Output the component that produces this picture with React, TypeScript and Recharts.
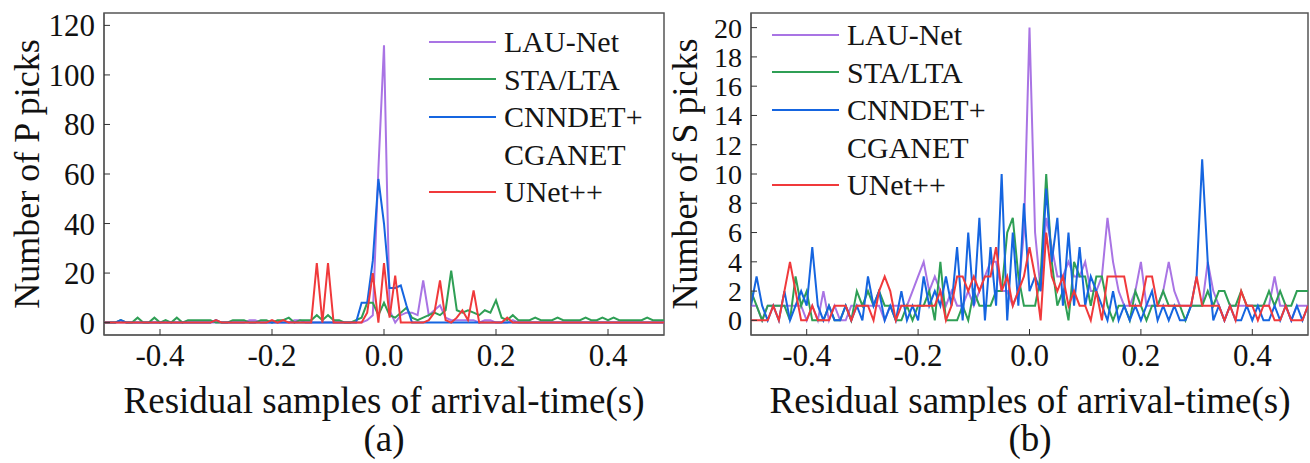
import { LineChart, Line, XAxis, YAxis, ReferenceArea, Legend } from "recharts";

const FONT = '"Liberation Serif", "Times New Roman", serif';

// residual time (s), 0.01 s bins
const residual = [
  -0.5, -0.49, -0.48, -0.47, -0.46, -0.45, -0.44, -0.43, -0.42, -0.41,
  -0.4, -0.39, -0.38, -0.37, -0.36, -0.35, -0.34, -0.33, -0.32, -0.31,
  -0.3, -0.29, -0.28, -0.27, -0.26, -0.25, -0.24, -0.23, -0.22, -0.21,
  -0.2, -0.19, -0.18, -0.17, -0.16, -0.15, -0.14, -0.13, -0.12, -0.11,
  -0.1, -0.09, -0.08, -0.07, -0.06, -0.05, -0.04, -0.03, -0.02, -0.01,
  0, 0.01, 0.02, 0.03, 0.04, 0.05, 0.06, 0.07, 0.08, 0.09,
  0.1, 0.11, 0.12, 0.13, 0.14, 0.15, 0.16, 0.17, 0.18, 0.19,
  0.2, 0.21, 0.22, 0.23, 0.24, 0.25, 0.26, 0.27, 0.28, 0.29,
  0.3, 0.31, 0.32, 0.33, 0.34, 0.35, 0.36, 0.37, 0.38, 0.39,
  0.4, 0.41, 0.42, 0.43, 0.44, 0.45, 0.46, 0.47, 0.48, 0.49,
  0.5,
];

// (a) P picks
const pLauNet = [
  0, 0, 0, 0, 0, 0, 0, 0, 0, 0,
  0, 0, 0, 0, 0, 0, 0, 0, 0, 0,
  0, 0, 0, 0, 0, 0, 1, 1, 0, 0,
  0, 0, 0, 0, 1, 1, 0, 0, 0, 0,
  0, 0, 0, 0, 0, 0, 0, 1, 3, 62,
  112, 5, 0, 3, 4, 4, 3, 17, 3, 5,
  7, 2, 1, 1, 1, 1, 1, 0, 1, 1,
  0, 0, 0, 1, 0, 0, 0, 0, 0, 0,
  0, 0, 0, 0, 0, 0, 0, 0, 0, 0,
  0, 0, 0, 0, 0, 0, 0, 0, 0, 0,
  0,
];
const pStaLta = [
  0, 0, 0, 1, 0, 0, 2, 0, 0, 2,
  0, 1, 0, 2, 0, 1, 1, 1, 1, 1,
  0, 0, 0, 1, 1, 1, 0, 0, 1, 1,
  0, 1, 1, 2, 0, 1, 1, 1, 3, 1,
  3, 1, 1, 0, 0, 1, 2, 8, 8, 3,
  8, 3, 2, 4, 6, 2, 1, 2, 3, 4,
  3, 5, 21, 5, 4, 5, 4, 3, 5, 4,
  9, 2, 1, 3, 1, 1, 1, 2, 1, 1,
  1, 2, 1, 1, 1, 1, 2, 1, 1, 2,
  1, 2, 1, 1, 1, 1, 1, 2, 1, 1,
  1,
];
const pCnnCgan = [
  0, 0, 0, 1, 0, 0, 0, 0, 0, 0,
  0, 0, 0, 0, 0, 0, 0, 0, 0, 0,
  1, 0, 0, 0, 0, 0, 0, 0, 0, 0,
  0, 0, 0, 0, 0, 0, 0, 0, 0, 0,
  0, 0, 0, 0, 0, 0, 8, 8, 25, 58,
  40, 14, 14, 15, 7, 0, 0, 0, 0, 0,
  0, 0, 0, 0, 0, 0, 0, 0, 0, 0,
  0, 0, 0, 0, 0, 0, 0, 0, 0, 0,
  0, 0, 0, 0, 0, 0, 0, 0, 0, 0,
  0, 0, 0, 0, 0, 0, 0, 0, 0, 0,
  0,
];
const pUnet = [
  0, 0, 0, 0, 0, 0, 0, 0, 0, 0,
  0, 0, 0, 0, 0, 0, 0, 0, 0, 0,
  1, 0, 0, 0, 0, 0, 0, 0, 0, 0,
  1, 0, 1, 0, 0, 0, 0, 0, 24, 0,
  24, 0, 0, 0, 0, 0, 0, 4, 20, 0,
  24, 2, 19, 0, 0, 0, 0, 0, 1, 4,
  17, 1, 0, 2, 5, 1, 13, 0, 0, 0,
  0, 0, 2, 0, 0, 0, 0, 0, 0, 0,
  0, 0, 0, 0, 0, 0, 0, 0, 0, 0,
  0, 0, 0, 0, 0, 0, 0, 0, 0, 0,
  0,
];

// (b) S picks
const sLauNet = [
  1, 1, 0, 1, 1, 1, 1, 1, 1, 1,
  0, 1, 0, 2, 0, 1, 0, 0, 1, 1,
  1, 1, 1, 1, 0, 1, 1, 1, 1, 2,
  3, 4, 2, 3, 2, 1, 2, 1, 1, 2,
  1, 2, 3, 4, 4, 2, 2, 1, 2, 6,
  20, 6, 2, 7, 5, 3, 3, 4, 3, 3,
  4, 2, 2, 3, 7, 4, 2, 1, 1, 2,
  4, 1, 1, 1, 2, 4, 2, 1, 1, 1,
  1, 1, 4, 2, 1, 0, 1, 1, 1, 1,
  1, 1, 1, 1, 3, 1, 1, 0, 1, 1,
  1,
];
const sStaLta = [
  2, 1, 0, 1, 1, 1, 1, 0, 3, 1,
  2, 0, 0, 0, 1, 0, 0, 1, 0, 2,
  1, 2, 1, 2, 1, 1, 0, 0, 1, 0,
  1, 1, 2, 0, 4, 0, 0, 0, 1, 0,
  2, 1, 1, 1, 2, 2, 6, 7, 3, 1,
  1, 1, 3, 10, 4, 1, 2, 0, 4, 3,
  3, 1, 3, 3, 1, 0, 1, 1, 0, 2,
  1, 0, 1, 1, 2, 1, 1, 1, 0, 1,
  1, 1, 2, 1, 2, 2, 1, 1, 2, 1,
  1, 1, 1, 2, 1, 2, 1, 1, 2, 2,
  2,
];
const sCnnCgan = [
  1, 3, 1, 0, 1, 0, 2, 0, 1, 2,
  1, 5, 1, 0, 1, 0, 0, 1, 0, 1,
  0, 3, 1, 2, 0, 1, 0, 2, 0, 1,
  0, 3, 1, 2, 1, 3, 1, 5, 0, 6,
  1, 7, 0, 5, 1, 10, 0, 6, 1, 8,
  2, 3, 2, 9, 4, 7, 1, 6, 1, 5,
  1, 3, 2, 1, 0, 2, 0, 1, 0, 1,
  0, 1, 2, 0, 1, 0, 1, 0, 0, 1,
  3, 11, 4, 0, 1, 0, 1, 0, 0, 1,
  0, 1, 0, 0, 1, 0, 1, 0, 1, 0,
  1,
];
const sUnet = [
  0, 0, 0, 0, 1, 0, 2, 4, 2, 0,
  0, 1, 0, 0, 0, 1, 1, 1, 0, 1,
  1, 1, 0, 2, 3, 2, 0, 1, 1, 1,
  1, 1, 1, 1, 2, 0, 1, 3, 3, 2,
  3, 2, 3, 3, 5, 2, 3, 1, 2, 3,
  5, 3, 0, 6, 3, 2, 3, 1, 2, 1,
  1, 0, 2, 0, 3, 3, 3, 3, 1, 1,
  1, 3, 3, 1, 1, 1, 1, 1, 1, 1,
  3, 1, 1, 1, 1, 0, 1, 0, 2, 1,
  1, 0, 1, 1, 0, 0, 1, 0, 0, 0,
  1,
];

const xTicks = [-0.4, -0.2, 0, 0.2, 0.4];
const pTicks = [0, 20, 40, 60, 80, 100, 120];
const sTicks = [0, 2, 4, 6, 8, 10, 12, 14, 16, 18, 20];

const SERIES = [
  { key: "lau", name: "LAU-Net", color: "#a974e4" },
  { key: "sta", name: "STA/LTA", color: "#2f9f55" },
  { key: "cnn", name: "CNNDET+CGANET", color: "#1565e0" },
  { key: "unet", name: "UNet++", color: "#f0393b" },
];

const pRows = residual.map((t, i) => ({ t, lau: pLauNet[i], sta: pStaLta[i], cnn: pCnnCgan[i], unet: pUnet[i] }));
const sRows = residual.map((t, i) => ({ t, lau: sLauNet[i], sta: sStaLta[i], cnn: sCnnCgan[i], unet: sUnet[i] }));

function LegendBox() {
  const rows = [
    { label: "LAU-Net", color: SERIES[0].color },
    { label: "STA/LTA", color: SERIES[1].color },
    { label: "CNNDET+", color: SERIES[2].color },
    { label: "CGANET", color: null },
    { label: "UNet++", color: SERIES[3].color },
  ];
  return (
    <div style={{ fontFamily: FONT, fontSize: 30, color: "#151515" }}>
      {rows.map(r => (
        <div key={r.label} style={{ display: "flex", alignItems: "center", height: 37.5, lineHeight: "37.5px", whiteSpace: "nowrap" }}>
          <div style={{ width: 67, height: 0, borderTop: r.color ? `2.5px solid ${r.color}` : "2.5px solid transparent", marginRight: 8 }} />
          <span>{r.label}</span>
        </div>
      ))}
    </div>
  );
}

interface PanelProps {
  rows: typeof pRows;
  left: number;
  width: number;
  yAxisWidth: number;
  marginRight: number;
  yDomain: [number, number];
  yTicks: number[];
  yFont: number;
  legendLeft: number;
  legendTop: number;
}

function Panel({ rows, left, width, yAxisWidth, marginRight, yDomain, yTicks, yFont, legendLeft, legendTop }: PanelProps) {
  const tickStyle = { fontSize: 31, fontFamily: FONT, fill: "#111" };
  return (
    <div style={{ position: "absolute", left, top: 0 }}>
      <LineChart width={width} height={463} data={rows} margin={{ top: 13, right: marginRight, bottom: 0, left: 0 }}>
        <XAxis
          dataKey="t"
          type="number"
          domain={[-0.5, 0.5]}
          ticks={xTicks}
          tickFormatter={(v: number) => v.toFixed(1)}
          height={128}
          tickSize={-6}
          tickMargin={15}
          tick={tickStyle}
          stroke="#555"
          tickLine={{ stroke: "#333" }}
          allowDataOverflow
        />
        <YAxis
          type="number"
          domain={yDomain}
          ticks={yTicks}
          width={yAxisWidth}
          tickSize={-6}
          tickMargin={15}
          tick={{ ...tickStyle, fontSize: yFont }}
          stroke="#555"
          tickLine={{ stroke: "#333" }}
          interval={0}
          allowDataOverflow
        />
        <ReferenceArea x1={-0.5} x2={0.5} y1={yDomain[0]} y2={yDomain[1]} fill="none" stroke="#555" strokeWidth={1.5} />
        {SERIES.map(s => (
          <Line
            key={s.key}
            dataKey={s.key}
            name={s.name}
            type="linear"
            stroke={s.color}
            strokeWidth={2}
            dot={false}
            activeDot={false}
            isAnimationActive={false}
          />
        ))}
        <Legend
          layout="vertical"
          align="center"
          verticalAlign="middle"
          wrapperStyle={{ left: legendLeft, top: legendTop, width: 260 }}
          content={() => <LegendBox />}
        />
      </LineChart>
    </div>
  );
}

const titleStyle = {
  position: "absolute" as const,
  fontFamily: FONT,
  fontSize: 37,
  lineHeight: "37px",
  color: "#111",
  whiteSpace: "nowrap" as const,
  transform: "translateX(-50%)",
};

const yTitleStyle = {
  ...titleStyle,
  fontSize: 36,
  lineHeight: "28px",
  top: 174,
  transform: "translate(-50%, -50%) rotate(-90deg)",
};

export default function App() {
  return (
    <div style={{ position: "absolute", left: 0, top: 0, width: 1310, height: 463, background: "#fff", overflow: "hidden" }}>
      <Panel rows={pRows} left={0} width={700} yAxisWidth={104} marginRight={36} yDomain={[-5, 125]} yTicks={pTicks} yFont={31} legendLeft={429} legendTop={23} />
      <Panel rows={sRows} left={660} width={650} yAxisWidth={91} marginRight={2} yDomain={[-1, 21]} yTicks={sTicks} yFont={28} legendLeft={112} legendTop={16} />

      <div style={{ ...yTitleStyle, left: 27 }}>Number of P picks</div>
      <div style={{ ...yTitleStyle, left: 685 }}>Number of S picks</div>

      <div style={{ ...titleStyle, left: 384, top: 382 }}>Residual samples of arrival-time(s)</div>
      <div style={{ ...titleStyle, left: 1030, top: 382 }}>Residual samples of arrival-time(s)</div>
      <div style={{ ...titleStyle, left: 384, top: 420 }}>(a)</div>
      <div style={{ ...titleStyle, left: 1030, top: 420 }}>(b)</div>
    </div>
  );
}
